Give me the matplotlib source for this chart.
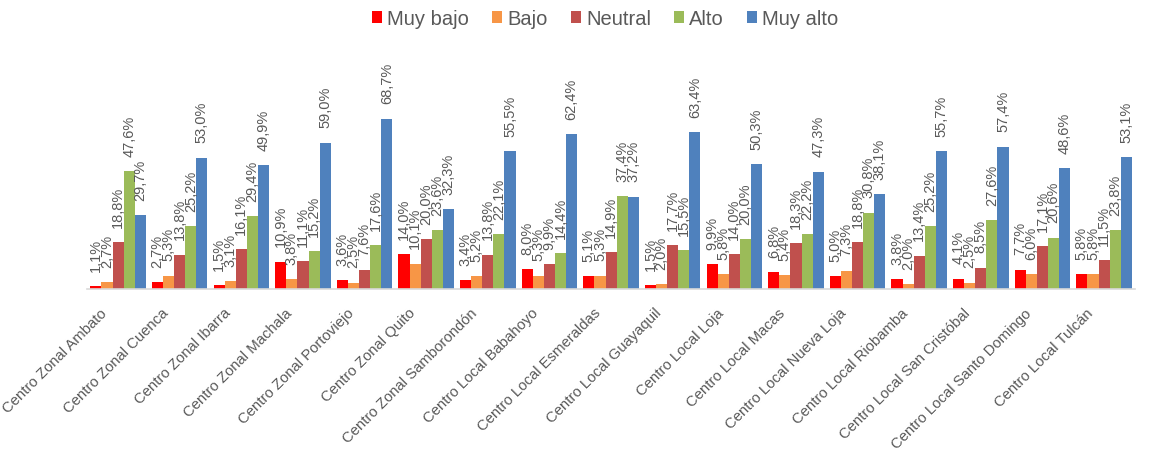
import matplotlib.pyplot as plt
import matplotlib.transforms as mtransforms
import numpy as np

centros = ['Centro Zonal Ambato', 'Centro Zonal Cuenca', 'Centro Zonal Ibarra',
           'Centro Zonal Machala', 'Centro Zonal Portoviejo', 'Centro Zonal Quito',
           'Centro Zonal Samborondón', 'Centro Local Babahoyo', 'Centro Local Esmeraldas',
           'Centro Local Guayaquil', 'Centro Local Loja', 'Centro Local Macas',
           'Centro Local Nueva Loja', 'Centro Local Riobamba', 'Centro Local San Cristóbal',
           'Centro Local Santo Domingo', 'Centro Local Tulcán']

muy_bajo = [1.1, 2.7, 1.5, 10.9, 3.6, 14.0, 3.4, 8.0, 5.1, 1.5, 9.9, 6.8, 5.0, 3.8, 4.1, 7.7, 5.8]
bajo = [2.7, 5.3, 3.1, 3.8, 2.5, 10.1, 5.2, 5.3, 5.3, 2.0, 5.8, 5.4, 7.3, 2.0, 2.5, 6.0, 5.8]
neutral = [18.8, 13.8, 16.1, 11.1, 7.6, 20.0, 13.8, 9.9, 14.9, 17.7, 14.0, 18.3, 18.8, 13.4, 8.5, 17.1, 11.5]
alto = [47.6, 25.2, 29.4, 15.2, 17.6, 23.6, 22.1, 14.4, 37.4, 15.5, 20.0, 22.2, 30.8, 25.2, 27.6, 20.6, 23.8]
muy_alto = [29.7, 53.0, 49.9, 59.0, 68.7, 32.3, 55.5, 62.4, 37.2, 63.4, 50.3, 47.3, 38.1, 55.7, 57.4, 48.6, 53.1]

series = [('Muy bajo', muy_bajo, '#FF0000'),
          ('Bajo', bajo, '#F79646'),
          ('Neutral', neutral, '#C0504D'),
          ('Alto', alto, '#9BBB59'),
          ('Muy alto', muy_alto, '#4F81BD')]

plt.rcParams['font.family'] = ['Liberation Sans', 'DejaVu Sans']
gray = '#595959'
fig = plt.figure(figsize=(11.64, 4.52), dpi=100)
ax = fig.add_axes([0.075, 0.359, 0.9, 0.438])

x = np.arange(len(centros))
width = 0.18
for i, (name, vals, color) in enumerate(series):
    pos = x + (i - 2) * width
    bars = ax.bar(pos, vals, width, color=color, label=name)
    for b, v in zip(bars, vals):
        ax.annotate('{:.1f}%'.format(v).replace('.', ','),
                    xy=(b.get_x() + b.get_width() / 2, v), xytext=(0, 11),
                    textcoords='offset points', rotation=90, ha='center', va='bottom',
                    fontsize=10.5, color=gray, annotation_clip=False)

ax.set_xlim(-0.5, len(centros) - 0.5)
ax.set_ylim(0, 80)
ax.set_yticks([])
for s in ['top', 'right', 'left']:
    ax.spines[s].set_visible(False)
ax.spines['bottom'].set_color('#D9D9D9')
ax.spines['bottom'].set_linewidth(1.2)

ax.set_xticks(x)
ax.set_xticklabels(centros, rotation=45, ha='right', rotation_mode='anchor',
                   fontsize=10.7, color=gray)
ax.tick_params(axis='x', length=0, pad=12)
shift = mtransforms.ScaledTranslation(-13 / 72, 0, fig.dpi_scale_trans)
for lab in ax.get_xticklabels():
    lab.set_transform(lab.get_transform() + shift)

fig.legend(loc='upper center', bbox_to_anchor=(0.52, 1.018), ncol=5, frameon=False,
           fontsize=14.5, handlelength=0.5, handleheight=0.5, handletextpad=0.25,
           columnspacing=1.15, labelcolor=gray)

plt.savefig('out.png', dpi=100)
